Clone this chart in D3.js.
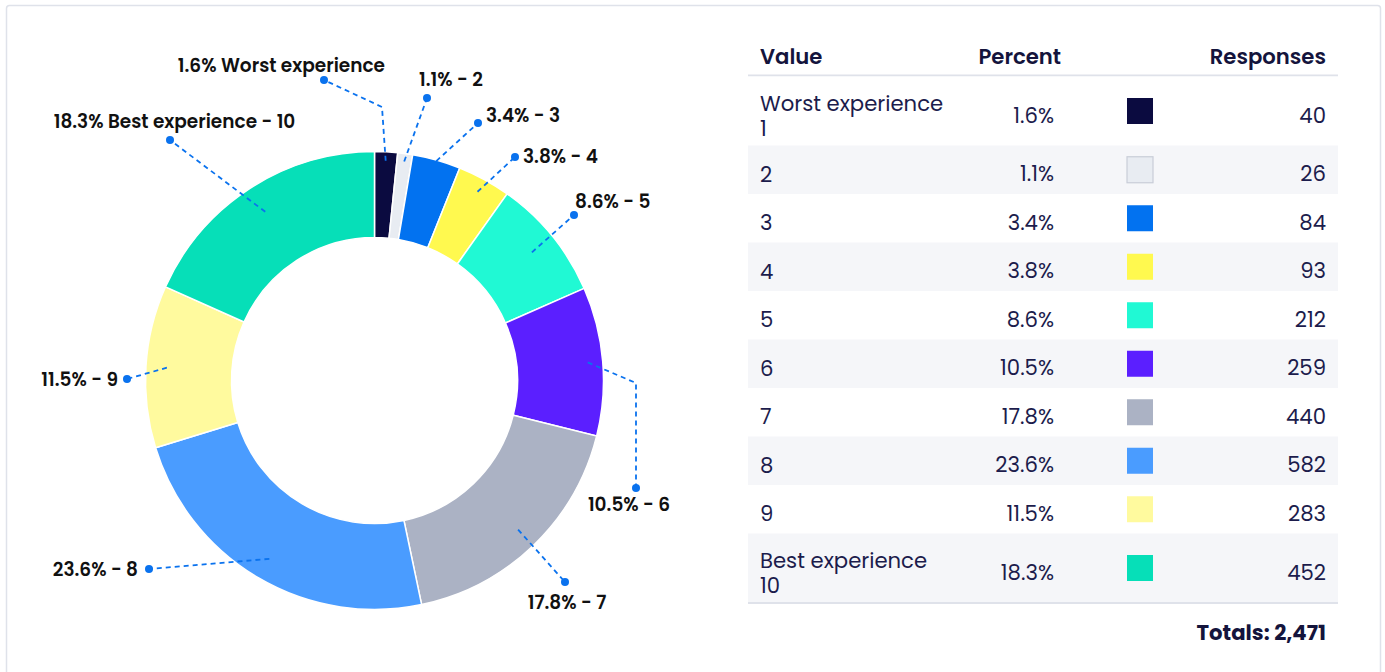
<!DOCTYPE html>
<html>
<head>
<meta charset="utf-8">
<script src="https://cdn.jsdelivr.net/npm/d3@7"></script>
<style>
  html, body { margin: 0; padding: 0; background: #fff; }
  svg { display: block; font-family: Poppins, Inter, "Noto Sans", sans-serif; }
</style>
</head>
<body>
<svg id="chart" width="1385" height="672"></svg>
<script>
// ---- data ----
const categories = ["Worst experience\n1", "2", "3", "4", "5", "6", "7", "8", "9", "Best experience\n10"];
const responses = [40, 26, 84, 93, 212, 259, 440, 582, 283, 452];
const percentLabels = ["1.6%", "1.1%", "3.4%", "3.8%", "8.6%", "10.5%", "17.8%", "23.6%", "11.5%", "18.3%"];
const donutLabels = ["1.6% Worst experience", "1.1% - 2", "3.4% - 3", "3.8% - 4", "8.6% - 5",
                     "10.5% - 6", "17.8% - 7", "23.6% - 8", "11.5% - 9", "18.3% Best experience - 10"];
const colors = ["#0b0b40", "#e8ecf2", "#0272f0", "#fff94f", "#20f9d4", "#5b1fff", "#abb2c4", "#4a9cff", "#fffa9e", "#06dfb8"];
const headers = ["Value", "Percent", "Responses"];
const totalLabel = "Totals: 2,471";

// ---- label layout (offsets from donut centre) ----
const labelLayout = [
  { r0: 220, elbow: [7.5, -273.5], dot: [-50.5, -300.5], text: [10.5, -315.5], anchor: "end" },
  { r0: 221, elbow: null, dot: [52.5, -282.5], text: [44.5, -301.5], anchor: "start" },
  { r0: 228, elbow: null, dot: [103.5, -257.5], text: [111.5, -265.5], anchor: "start" },
  { r0: 215, elbow: null, dot: [140.5, -223.5], text: [148.5, -224.5], anchor: "start" },
  { r0: 203, elbow: null, dot: [199.5, -165.5], text: [200.5, -179.5], anchor: "start" },
  { r0: 214, elbow: [261.5, 2.5], dot: [261.5, 107.5], text: [254.5, 123.5], anchor: "middle" },
  { r0: 207, elbow: null, dot: [190.5, 201.5], text: [192.5, 221.5], anchor: "middle" },
  { r0: 207, elbow: null, dot: [-225.5, 188.5], text: [-236.5, 188.5], anchor: "end" },
  { r0: 208, elbow: null, dot: [-247.5, -1.5], text: [-256.5, -1.5], anchor: "end" },
  { r0: 201, elbow: null, dot: [-204.5, -240.5], text: [-200, -259.5], anchor: "middle" }
];

const svg = d3.select("#chart");

// outer frame
svg.append("rect")
  .attr("x", 6.5).attr("y", 5.5).attr("width", 1374).attr("height", 700)
  .attr("rx", 3).attr("fill", "#fff").attr("stroke", "#dfe2ea").attr("stroke-width", 1.5);

// ---- donut ----
const cx = 374.5, cy = 380.5, R = 229, r = 143;
const g = svg.append("g").attr("transform", `translate(${cx},${cy})`);
const pie = d3.pie().sort(null).value(d => d)(responses);
const arc = d3.arc().innerRadius(r).outerRadius(R);

g.selectAll("path.slice").data(pie).join("path")
  .attr("class", "slice")
  .attr("d", arc)
  .attr("fill", (d, i) => colors[i])
  .attr("stroke", "#fff").attr("stroke-width", 1.5);

// connectors + labels
const lineColor = "#0a72ee";
pie.forEach((d, i) => {
  const L = labelLayout[i];
  const a = (d.startAngle + d.endAngle) / 2;
  const start = [Math.sin(a) * L.r0, -Math.cos(a) * L.r0];
  const pts = [start];
  if (L.elbow) pts.push(L.elbow);
  pts.push(L.dot);
  g.append("path")
    .attr("d", d3.line()(pts))
    .attr("fill", "none").attr("stroke", lineColor)
    .attr("stroke-width", 1.8).attr("stroke-dasharray", "5,4");
  g.append("circle").attr("cx", L.dot[0]).attr("cy", L.dot[1]).attr("r", 4).attr("fill", lineColor);
  g.append("text")
    .attr("x", L.text[0]).attr("y", L.text[1])
    .attr("text-anchor", L.anchor).attr("dominant-baseline", "central")
    .attr("font-size", 18.5).attr("font-weight", 600).attr("fill", "#111")
    .text(donutLabels[i]);
});

// ---- table ----
const navy = "#14143c", bodyCol = "#1c1c4c";
const fs = 21.2;
const tx0 = 748, tx1 = 1338;
const colValue = 760, colPct = 1054, colSwatch = 1127, colResp = 1326;

const th = svg.append("g");
th.selectAll("text").data(headers).join("text")
  .attr("x", (d, i) => [colValue, 1061, colResp][i])
  .attr("y", 56)
  .attr("text-anchor", (d, i) => i === 0 ? "start" : "end")
  .attr("dominant-baseline", "central")
  .attr("font-size", fs).attr("font-weight", 600).attr("fill", navy)
  .text(d => d);
svg.append("line").attr("x1", tx0).attr("x2", tx1).attr("y1", 75.5).attr("y2", 75.5)
  .attr("stroke", "#dfe2ea").attr("stroke-width", 2);

let y = 76.5;
const rows = categories.map((c, i) => {
  const lines = c.split("\n");
  const h = lines.length > 1 ? 69 : 48.5;
  const row = { i, lines, y0: y, h };
  y += h;
  return row;
});

const rg = svg.append("g").selectAll("g").data(rows).join("g");
rg.append("rect")
  .attr("x", tx0).attr("y", d => d.y0).attr("width", tx1 - tx0).attr("height", d => d.h)
  .attr("fill", d => d.i % 2 === 1 ? "#f5f6f9" : "#fff");
rg.each(function(d) {
  const sel = d3.select(this);
  const mid = d.y0 + d.h / 2;
  const tc = mid + 4;
  const n = d.lines.length;
  const vt = sel.append("text")
    .attr("dominant-baseline", "central")
    .attr("font-size", fs).attr("fill", bodyCol);
  d.lines.forEach((t, k) => {
    vt.append("tspan")
      .attr("x", colValue).attr("y", tc + (k - (n - 1) / 2) * 25)
      .attr("dominant-baseline", "central")
      .text(t);
  });
  sel.append("text").attr("x", colPct).attr("y", tc).attr("text-anchor", "end")
    .attr("dominant-baseline", "central").attr("font-size", fs).attr("fill", bodyCol)
    .text(percentLabels[d.i]);
  sel.append("rect").attr("x", colSwatch).attr("y", mid - 13).attr("width", 26).attr("height", 26)
    .attr("fill", colors[d.i])
    .attr("stroke", d.i === 1 ? "#c9cdd8" : "none").attr("stroke-width", 1.2);
  sel.append("text").attr("x", colResp).attr("y", tc).attr("text-anchor", "end")
    .attr("dominant-baseline", "central").attr("font-size", fs).attr("fill", bodyCol)
    .text(responses[d.i]);
});
svg.append("line").attr("x1", tx0).attr("x2", tx1).attr("y1", y + 0.5).attr("y2", y + 0.5)
  .attr("stroke", "#dfe2ea").attr("stroke-width", 2);

svg.append("text").attr("x", colResp).attr("y", 632).attr("text-anchor", "end")
  .attr("dominant-baseline", "central").attr("font-size", fs).attr("font-weight", 700)
  .attr("fill", navy).text(totalLabel);
</script>
</body>
</html>
